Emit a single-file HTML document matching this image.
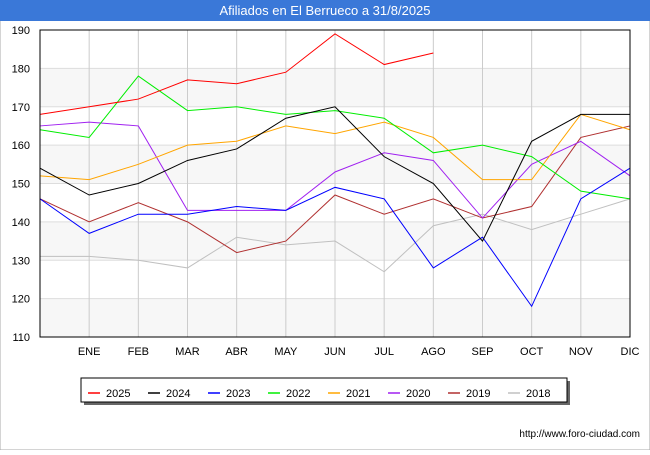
<!DOCTYPE html>
<html><head><meta charset="utf-8"><style>
body{margin:0;background:#fff;font-family:"Liberation Sans",sans-serif}
#wrap{position:relative;width:650px;height:450px;border:0}
</style></head><body>
<div id="wrap">
<svg id="chart" width="650" height="450" xmlns="http://www.w3.org/2000/svg">
<rect x="0" y="0" width="650" height="450" fill="#fff" stroke="#aaa"/>
<rect x="0" y="0" width="650" height="21" fill="#3a78d8"/>
<text x="325" y="15" text-anchor="middle" fill="#fff" font-size="13">Afiliados en El Berrueco a 31/8/2025</text>
<g id="grid"></g><g id="series"></g><g id="axes"></g>
<text x="640" y="437" text-anchor="end" font-size="10" fill="#000">http://www.foro-ciudad.com</text>
</svg>
</div>
<script>
const categories=["","ENE","FEB","MAR","ABR","MAY","JUN","JUL","AGO","SEP","OCT","NOV","DIC"];
const yTicks=[110,120,130,140,150,160,170,180,190];
const seriesNames=["2025","2024","2023","2022","2021","2020","2019","2018"];
const seriesColors=["#ff0000","#000000","#0000ff","#00ee00","#ffa500","#a020f0","#b03030","#c0c0c0"];
const s2025=[168,170,172,177,176,179,189,181,184];
const s2024=[154,147,150,156,159,167,170,157,150,135,161,168,168];
const s2023=[146,137,142,142,144,143,149,146,128,136,118,146,154];
const s2022=[164,162,178,169,170,168,169,167,158,160,157,148,146];
const s2021=[152,151,155,160,161,165,163,166,162,151,151,168,164];
const s2020=[165,166,165,143,143,143,153,158,156,141,155,161,152];
const s2019=[146,140,145,140,132,135,147,142,146,141,144,162,165];
const s2018=[131,131,130,128,136,134,135,127,139,142,138,142,146];
const allSeries=[s2025,s2024,s2023,s2022,s2021,s2020,s2019,s2018];
const NS="http://www.w3.org/2000/svg";
const L=40,R=630,T=30,B=337,yMin=110,yMax=190;
const x=i=>L+i*(R-L)/(categories.length-1);
const y=v=>B-(v-yMin)*(B-T)/(yMax-yMin);
function mk(tag,attrs,parent){const e=document.createElementNS(NS,tag);for(const k in attrs)e.setAttribute(k,attrs[k]);parent.appendChild(e);return e;}
const grid=document.getElementById('grid'),ser=document.getElementById('series'),ax=document.getElementById('axes');
for(let i=0;i<yTicks.length-1;i++){if(i%2===0){const r=mk('rect',{x:L,y:y(yTicks[i+1]),width:R-L,height:y(yTicks[i])-y(yTicks[i+1]),fill:'#f7f7f7'},grid);

}}
yTicks.forEach(t=>{const l=mk('line',{x1:L,x2:R,y1:y(t),y2:y(t),stroke:'#ddd'},grid);


const tx=mk('text',{x:L-10,y:y(t)+4,'text-anchor':'end','font-size':'11',fill:'#000'},ax);tx.textContent=t;

});
categories.forEach((c,i)=>{if(i>0){const l=mk('line',{x1:x(i),x2:x(i),y1:T,y2:B,stroke:'#ccc'},grid);

}
const tx=mk('text',{x:x(i),y:B+18,'text-anchor':'middle','font-size':'11',fill:'#000'},ax);tx.textContent=c;

});
const fr=mk('rect',{x:L,y:T,width:R-L,height:B-T,fill:'none',stroke:'#000'},ax);


for(let s=allSeries.length-1;s>=0;s--){const pts=allSeries[s].map((v,i)=>x(i)+','+y(v)).join(' ');
const p=mk('polyline',{points:pts,fill:'none',stroke:seriesColors[s],'stroke-width':'1'},ser);

}
// legend
const lg=mk('g',{},ax);


mk('rect',{x:84,y:381,width:486,height:24,fill:'#666'},lg);
mk('rect',{x:81,y:378,width:486,height:24,fill:'#fff',stroke:'#000'},lg);
seriesNames.forEach((n,i)=>{const gx=88+i*60;
const g=mk('g',{},lg);


mk('line',{x1:gx,x2:gx+12,y1:393,y2:393,stroke:seriesColors[i],'stroke-width':'1.5'},g);
const t=mk('text',{x:gx+18,y:397,'font-size':'11',fill:'#000'},g);t.textContent=n;});
</script>
</body></html>
